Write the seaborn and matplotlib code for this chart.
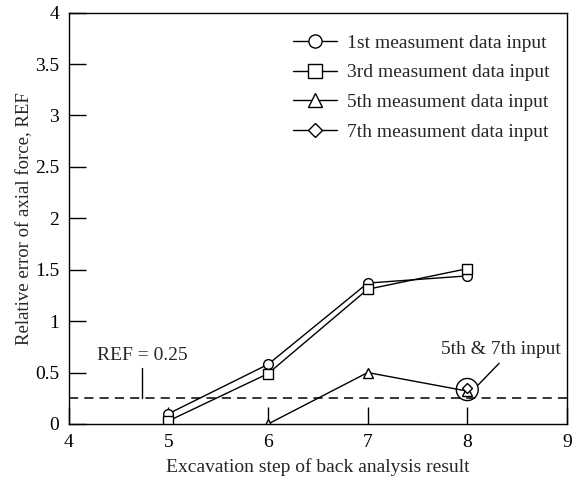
import pandas as pd
import matplotlib.pyplot as plt
import seaborn as sns
from matplotlib.patches import Ellipse

# valores
series = ['1st measument data input', '3rd measument data input',
          '5th measument data input', '7th measument data input']
x_1st = [5, 6, 7, 8]
y_1st = [0.10, 0.58, 1.37, 1.44]
x_3rd = [5, 6, 7, 8]
y_3rd = [0.03, 0.49, 1.31, 1.51]
x_5th = [6, 7, 8]
y_5th = [0.0, 0.50, 0.32]
x_7th = [8]
y_7th = [0.35]
marcadores = ['o', 's', '^', 'D']

ref_limite = 0.25
xticks = [4, 5, 6, 7, 8, 9]
yticks = [0, 0.5, 1, 1.5, 2, 2.5, 3, 3.5, 4]
yticklabels = ['0', '0.5', '1', '1.5', '2', '2.5', '3', '3.5', '4']

sns.set_style('white')
plt.rcParams['font.family'] = ['Liberation Serif', 'DejaVu Serif']

dados = [(x_1st, y_1st), (x_3rd, y_3rd), (x_5th, y_5th), (x_7th, y_7th)]
fs = 14

fig, ax = plt.subplots(figsize=(5.79, 4.84), dpi=100)
for nome, (xs, ys), m in zip(series, dados, marcadores):
    df = pd.DataFrame({'x': xs, 'y': ys})
    sns.lineplot(data=df, x='x', y='y', ax=ax, color='black', lw=1,
                 marker=m, markersize=7 if m != 'D' else 5.5,
                 markerfacecolor='white', markeredgecolor='black',
                 markeredgewidth=1, label=nome)

ax.axhline(ref_limite, color='black', lw=1.1, ls=(0, (6, 4)))
ax.plot([4.73, 4.73], [ref_limite, 0.54], color='black', lw=1)
ax.text(4.28, 0.58, 'REF = 0.25', fontsize=fs, va='bottom')

# círculo em volta do ponto 5th & 7th
ax.add_patch(Ellipse((8, 0.335), 0.22, 0.215, fill=False, color='black', lw=1))
ax.plot([8.11, 8.32], [0.38, 0.59], color='black', lw=1)
ax.text(8.34, 0.64, '5th & 7th input', fontsize=fs, ha='center', va='bottom')

ax.set_xlim(4, 9)
ax.set_ylim(0, 4)
ax.set_xticks(xticks)
ax.set_yticks(yticks)
ax.set_yticklabels(yticklabels)
ax.tick_params(direction='in', length=12, width=1, labelsize=fs,
               color='black', labelcolor='black', pad=7,
               bottom=True, left=True, top=False, right=False)
for s in ax.spines.values():
    s.set_color('black')
    s.set_linewidth(1)

ax.set_xlabel('Excavation step of back analysis result', fontsize=fs, labelpad=5)
ax.set_ylabel('Relative error of axial force, REF', fontsize=13.5, labelpad=1)

ax.legend(loc='upper left', frameon=False, fontsize=fs, handlelength=2.3,
          handletextpad=0.5, markerscale=1.35, labelspacing=0.62,
          bbox_to_anchor=(0.414, 0.99))

plt.subplots_adjust(left=0.119, right=0.979, top=0.974, bottom=0.124)
plt.savefig('out.png', dpi=100)
